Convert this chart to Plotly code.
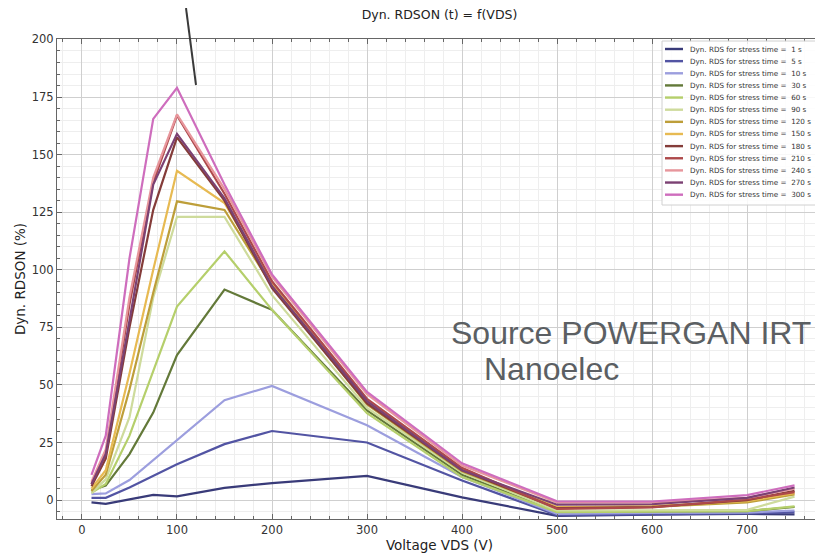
import plotly.graph_objects as go

# ---- data ----
vds = [10, 25, 50, 75, 100, 150, 200, 300, 400, 500, 600, 700, 750]
stress_times = [1, 5, 10, 30, 60, 90, 120, 150, 180, 210, 240, 270, 300]
colors = ["#393b79", "#5254a3", "#9c9ede", "#637939", "#b5cf6b", "#cedb9c",
          "#bd9e39", "#e7ba52", "#843c39", "#ad494a", "#e7969c", "#7b4173", "#ce6dbd"]

rds_1s   = [-1.0, -1.6, 0.3, 2.3, 1.6, 5.3, 7.4, 10.5, 1.2, -6.8, -6.3, -6.0, -6.2]
rds_5s   = [1.0, 1.0, 5.5, 10.5, 15.6, 24.3, 30.0, 25.0, 8.5, -6.5, -6.0, -5.8, -5.2]
rds_10s  = [2.6, 2.9, 8.7, 17.4, 26.0, 43.4, 49.6, 32.5, 10.0, -6.0, -5.6, -5.4, -4.5]
rds_30s  = [4.3, 6.3, 20.0, 38.0, 63.0, 91.4, 82.6, 39.0, 11.0, -5.0, -4.9, -4.8, -3.0]
rds_60s  = [3.2, 7.0, 28.0, 56.0, 84.0, 108.0, 82.6, 37.7, 10.0, -5.2, -5.0, -4.8, -2.7]
rds_90s  = [3.0, 9.0, 36.0, 88.0, 123.0, 123.0, 89.0, 40.0, 12.0, -4.5, -4.4, -4.2, 1.5]
rds_120s = [4.0, 11.0, 48.0, 90.0, 129.7, 126.0, 93.0, 41.5, 12.5, -3.5, -3.0, -1.0, 2.5]
rds_150s = [5.0, 13.0, 55.0, 100.0, 143.0, 129.0, 94.0, 43.0, 13.5, -3.0, -2.6, -0.5, 3.0]
rds_180s = [6.0, 18.0, 75.0, 126.0, 157.5, 130.0, 92.0, 42.0, 13.0, -3.5, -3.0, 0.0, 4.0]
rds_210s = [7.0, 20.0, 85.0, 138.0, 167.0, 133.0, 95.0, 44.0, 14.0, -3.8, -3.2, 0.3, 3.5]
rds_240s = [8.0, 22.0, 88.0, 140.0, 167.5, 135.0, 97.0, 46.0, 15.0, -1.0, -1.0, 1.0, 5.0]
rds_270s = [7.0, 20.0, 78.0, 137.0, 159.0, 131.0, 93.0, 43.0, 13.0, -2.0, -1.8, 1.0, 5.5]
rds_300s = [11.0, 28.0, 105.0, 165.5, 179.0, 137.0, 98.0, 47.0, 16.0, -0.5, -0.6, 2.2, 6.4]

series = [rds_1s, rds_5s, rds_10s, rds_30s, rds_60s, rds_90s, rds_120s,
          rds_150s, rds_180s, rds_210s, rds_240s, rds_270s, rds_300s]

x_ticks = [0, 100, 200, 300, 400, 500, 600, 700]
y_ticks = [0, 25, 50, 75, 100, 125, 150, 175, 200]

title_text = "Dyn. RDSON (t) = f(VDS)"
x_title = "Voltage VDS (V)"
y_title = "Dyn. RDSON (%)"
label_fmt = "Dyn. RDS for stress time =\u00a0 {} s"
source_lines = ["Source POWERGAN IRT", "Nanoelec"]

# ---- layout geometry (pixels) ----
PAGE = 8                      # default body margin of the html page
W, H = 823 - PAGE, 555 - PAGE
L, R, T = 57 - PAGE, 1, 39 - PAGE
ph = 480
B = H - T - ph
pw = W - L - R

def px_to_paper(px, py):
    """window pixel -> paper coords"""
    fx, fy = px - PAGE, py - PAGE
    return (fx - L) / pw, (T + ph - fy) / ph

fig = go.Figure()
for t, vals, c in zip(stress_times, series, colors):
    fig.add_trace(go.Scatter(x=vds, y=vals, mode="lines", name=label_fmt.format(t),
                             line=dict(color=c, width=2.2), showlegend=False))

shapes = []
annotations = []

# compact legend
lx0, ly0 = px_to_paper(662, 41)
lx1, ly1 = px_to_paper(821, 205)
shapes.append(dict(type="rect", xref="paper", yref="paper", x0=lx0, y0=ly1, x1=lx1, y1=ly0,
                   line=dict(color="#d0d0d0", width=1), fillcolor="rgba(255,255,255,0.85)",
                   layer="above"))
for i, (t, c) in enumerate(zip(stress_times, colors)):
    py = 49 + 12.14 * i
    a, yy = px_to_paper(665, py)
    b, _ = px_to_paper(683, py)
    tx, _ = px_to_paper(688, py)
    shapes.append(dict(type="line", xref="paper", yref="paper", x0=a, x1=b, y0=yy, y1=yy,
                       line=dict(color=c, width=2.4), layer="above"))
    annotations.append(dict(xref="paper", yref="paper", x=tx, y=yy, xanchor="left",
                            yanchor="middle", showarrow=False, text=label_fmt.format(t),
                            font=dict(family="DejaVu Sans", size=7.2, color="#333333")))

# pointer line at top
p0 = px_to_paper(186, 8)
p1 = px_to_paper(196, 85)
shapes.append(dict(type="line", xref="paper", yref="paper", x0=p0[0], y0=p0[1], x1=p1[0], y1=p1[1],
                   line=dict(color="#3a3a3a", width=2), layer="above"))

# source text
s1 = px_to_paper(449, 333)
s2 = px_to_paper(482, 369)
for (sx, sy), txt in zip([s1, s2], source_lines):
    annotations.append(dict(xref="paper", yref="paper", x=sx, y=sy, xanchor="left",
                            yanchor="middle", showarrow=False, text=txt,
                            font=dict(family="Liberation Sans", size=32, color="#5b5f63")))

axis_common = dict(showline=True, linecolor="#666666", linewidth=1, mirror="ticks",
                   ticks="inside", ticklen=5, tickcolor="#666666", zeroline=False,
                   showgrid=True, gridcolor="#cfcfcf", gridwidth=1, automargin=False,
                   tickfont=dict(family="DejaVu Sans", size=11.5, color="#333333"))

fig.update_layout(
    width=W, height=H,
    margin=dict(l=L, r=R, t=T, b=B),
    paper_bgcolor="white", plot_bgcolor="white",
    font=dict(family="DejaVu Sans", color="#222222"),
    title=dict(text=title_text, x=0.5, xref="paper", y=1 - (15 - PAGE) / H, yref="container",
               xanchor="center", yanchor="middle", font=dict(size=12.5, color="#222222")),
    shapes=shapes, annotations=annotations,
    xaxis=dict(range=[-26.3, 778.9], tickvals=x_ticks,
               minor=dict(dtick=20, tick0=0, showgrid=True, gridcolor="#eeeeee",
                          ticks="inside", ticklen=3, tickcolor="#666666"),
               title=dict(text=x_title, font=dict(size=13.5, color="#222222"), standoff=2),
               **axis_common),
    yaxis=dict(range=[-8.2, 200.2], tickvals=y_ticks,
               minor=dict(dtick=5, tick0=0, showgrid=True, gridcolor="#eeeeee",
                          ticks="inside", ticklen=3, tickcolor="#666666"),
               title=dict(text=y_title, font=dict(size=13.5, color="#222222"), standoff=3),
               **axis_common),
)

fig.write_html("out.html")
